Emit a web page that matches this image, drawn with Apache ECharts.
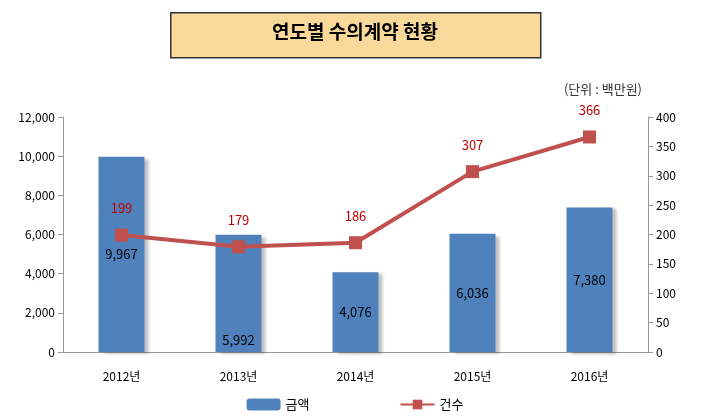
<!DOCTYPE html>
<html>
<head>
<meta charset="utf-8">
<script src="https://cdn.jsdelivr.net/npm/echarts@6/dist/echarts.min.js"></script>
<style>
  body { margin: 0; background: #fff; }
  #chart { width: 710px; height: 418px; }
</style>
</head>
<body>
<div id="chart"></div>
<script>
const years = ['2012년', '2013년', '2014년', '2015년', '2016년']
const amounts = [9967, 5992, 4076, 6036, 7380]
const counts = [199, 179, 186, 307, 366]
// bar label placement follows the original picture
const amountLabelPos = ['inside', 'insideBottom', 'inside', 'inside', 'inside']

const font = '"Noto Sans CJK KR", "Liberation Sans", sans-serif'
const myChart = echarts.init(document.getElementById('chart'))
const option = {
  textStyle: { fontFamily: font },
  graphic: [
    {
      type: 'rect', left: 170, top: 12,
      shape: { width: 370, height: 45 },
      style: { fill: '#f8d99a', stroke: '#333', lineWidth: 1.5 },
      shadowBlur: 0
    },
    {
      type: 'text', left: 'center', top: 22,
      style: { text: '연도별 수의계약 현황', font: 'bold 19px ' + font, fill: '#000' }
    },
    {
      type: 'text', right: 68, top: 83,
      style: { text: '(단위 : 백만원)', font: '13px ' + font, fill: '#333' }
    }
  ],
  grid: { left: 63, right: 62, top: 117, bottom: 66 },
  legend: {
    bottom: 2, left: 'center', itemGap: 90, itemWidth: 34, itemHeight: 12,
    textStyle: { fontSize: 13, color: '#000' },
    data: ['금액', '건수']
  },
  xAxis: {
    type: 'category', data: years,
    axisTick: { show: false },
    axisLine: { lineStyle: { color: '#999' } },
    axisLabel: { color: '#000', fontSize: 12, margin: 18 }
  },
  yAxis: [
    {
      type: 'value', min: 0, max: 12000, interval: 2000,
      splitLine: { show: false },
      axisLine: { show: true, lineStyle: { color: '#999' } },
      axisTick: { show: true, lineStyle: { color: '#999' } },
      axisLabel: { color: '#000', fontSize: 12, formatter: v => v.toLocaleString('en-US') }
    },
    {
      type: 'value', min: 0, max: 400, interval: 50,
      splitLine: { show: false },
      axisLine: { show: true, lineStyle: { color: '#999' } },
      axisTick: { show: true, lineStyle: { color: '#999' } },
      axisLabel: { color: '#000', fontSize: 12 }
    }
  ],
  series: [
    {
      name: '금액', type: 'bar', barWidth: 46,
      data: amounts.map((v, i) => ({ value: v, label: { position: amountLabelPos[i] } })),
      itemStyle: {
        color: '#4f81bd', shadowColor: 'rgba(0,0,0,0.25)', shadowOffsetX: 4, shadowOffsetY: 2, shadowBlur: 3
      },
      label: {
        show: true, color: '#000', fontSize: 13,
        formatter: p => p.value.toLocaleString('en-US')
      }
    },
    {
      name: '건수', type: 'line', yAxisIndex: 1, data: counts,
      symbol: 'rect', symbolSize: 13,
      lineStyle: { color: '#c0504d', width: 4 },
      itemStyle: { color: '#c0504d' },
      label: { show: true, position: 'top', distance: 14, color: '#c00000', fontSize: 13 }
    }
  ]
}
myChart.setOption(option)
</script>
</body>
</html>
